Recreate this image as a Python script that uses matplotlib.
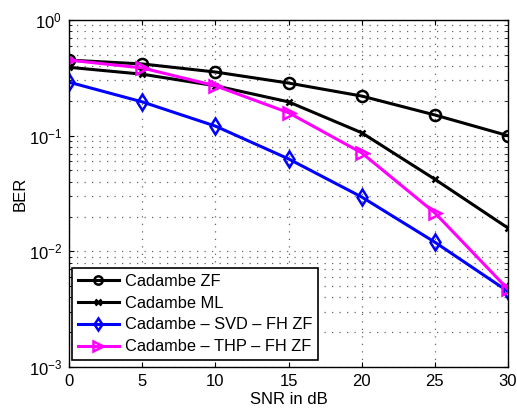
import matplotlib
matplotlib.use("Agg")
import matplotlib.pyplot as plt
import numpy as np

plt.rcParams['font.family'] = ['Liberation Sans', 'DejaVu Sans']

snr = [0, 5, 10, 15, 20, 25, 30]
ber_zf = [0.45, 0.417, 0.355, 0.285, 0.22, 0.151, 0.1]
ber_ml = [0.39, 0.34, 0.27, 0.196, 0.106, 0.042, 0.0159]
ber_svd = [0.29, 0.196, 0.121, 0.063, 0.0295, 0.012, 0.0045]
ber_thp = [0.45, 0.385, 0.27, 0.158, 0.071, 0.0215, 0.0047]
labels = ['Cadambe ZF', 'Cadambe ML', 'Cadambe – SVD – FH ZF', 'Cadambe – THP – FH ZF']

fig = plt.figure(figsize=(5.17, 4.08), dpi=100)
ax = fig.add_axes([0.1335, 0.1005, 0.8491, 0.8505])

lw = 2.2
ax.semilogy(snr, ber_zf, color='black', lw=lw, marker='o', ms=8, mfc='none', mew=1.8, label=labels[0])
ax.semilogy(snr, ber_ml, color='black', lw=lw, marker='x', ms=5, mew=1.8, label=labels[1])
ax.semilogy(snr, ber_svd, color='blue', lw=lw, marker='d', ms=8, mfc='none', mew=1.8, label=labels[2])
ax.semilogy(snr, ber_thp, color='magenta', lw=lw, marker='>', ms=9, mfc='none', mew=1.8, label=labels[3])

ax.set_xlim(0, 30)
ax.set_ylim(1e-3, 1)
ax.set_xticks([0, 5, 10, 15, 20, 25, 30])
gs = dict(linestyle=(0, (1, 5)), color='#666666', lw=0.9)
ax.grid(True, which='major', **gs)
ax.grid(True, which='minor', axis='y', **gs)
ax.tick_params(which='both', direction='in', top=True, right=True, labelsize=12, pad=5)
ax.tick_params(which='minor', axis='x', bottom=False, top=False)
for s in ax.spines.values():
    s.set_linewidth(1.0)
ax.set_xlabel('SNR in dB', fontsize=12, labelpad=2)
ax.set_ylabel('BER', fontsize=12, labelpad=1)

leg = ax.legend(loc='lower left', bbox_to_anchor=(0.007, 0.02), fontsize=11.8, fancybox=False,
                edgecolor='black', framealpha=1, handlelength=2.5, borderaxespad=0.0,
                labelspacing=0.42, borderpad=0.35, handletextpad=0.4, markerscale=0.75)
leg.get_frame().set_linewidth(1.2)

fig.savefig('out.png', dpi=100)
